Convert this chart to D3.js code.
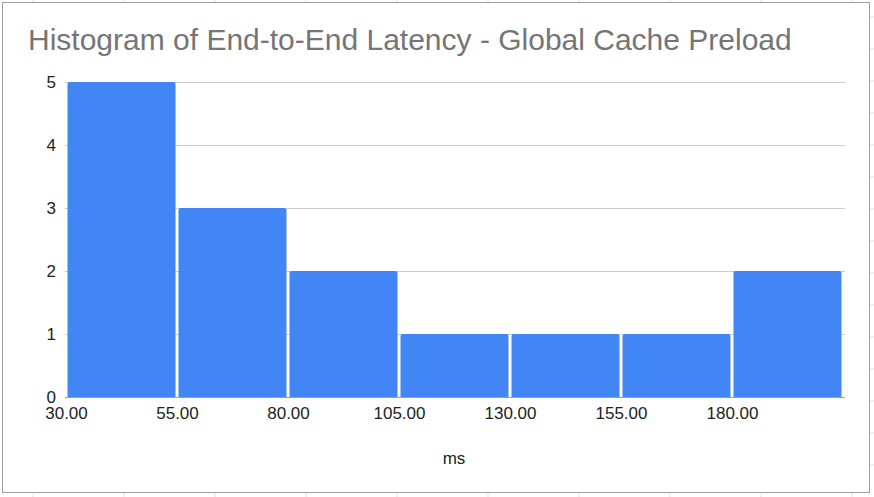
<!DOCTYPE html>
<html>
<head>
<meta charset="utf-8">
<script src="https://cdn.jsdelivr.net/npm/d3@7"></script>
<style>
  html, body { margin: 0; padding: 0; background: #fff; }
  svg { display: block; }
  text { font-family: Arial, "Liberation Sans", sans-serif; }
</style>
</head>
<body>
<svg id="chart" width="874" height="497"></svg>
<script>
const titleText = "Histogram of End-to-End Latency - Global Cache Preload";
const xAxisTitle = "ms";
const binStarts = [30, 55, 80, 105, 130, 155, 180];
const binEnds   = [55, 80, 105, 130, 155, 180, 205];
const counts    = [5, 3, 2, 1, 1, 1, 2];
const xTickValues = [30, 55, 80, 105, 130, 155, 180];
const yTickValues = [0, 1, 2, 3, 4, 5];

(function () {
const svg = d3.select("#chart");

// outer sheet gridline hints
const sheetG = svg.append("g");
[33, 124, 215, 306, 397, 488, 579, 670, 761, 852].forEach(xx => {
  sheetG.append("line").attr("x1", xx).attr("x2", xx).attr("y1", 0).attr("y2", 2).attr("stroke", "#e2e2e2");
  sheetG.append("line").attr("x1", xx).attr("x2", xx).attr("y1", 493).attr("y2", 497).attr("stroke", "#e2e2e2");
});
[17, 49, 81, 113, 145, 177, 209, 241, 273, 305, 337, 369, 401, 433, 465].forEach(yy => {
  sheetG.append("line").attr("x1", 870).attr("x2", 874).attr("y1", yy).attr("y2", yy).attr("stroke", "#e2e2e2");
});

// chart frame
svg.append("rect").attr("x", 2.5).attr("y", 2.5).attr("width", 867).attr("height", 490)
  .attr("fill", "#fff").attr("stroke", "#9e9e9e").attr("stroke-width", 1);

const pLeft = 65, pRight = 843, pTop = 82, pBottom = 397;
const x = d3.scaleLinear().domain([30, 205]).range([pLeft + 1, pRight]);
const y = d3.scaleLinear().domain([0, 5]).range([pBottom, pTop]);

// gridlines
svg.append("g").selectAll("line").data(yTickValues.filter(v => v > 0)).join("line")
  .attr("x1", pLeft).attr("x2", 845)
  .attr("y1", d => Math.round(y(d)) + 0.5).attr("y2", d => Math.round(y(d)) + 0.5)
  .attr("stroke", "#cccccc").attr("stroke-width", 1);

// bars with rounded top corners
function barPath(x0, x1, yt, yb, r) {
  return `M${x0},${yb}L${x0},${yt + r}Q${x0},${yt} ${x0 + r},${yt}L${x1 - r},${yt}Q${x1},${yt} ${x1},${yt + r}L${x1},${yb}Z`;
}
const bars = binStarts.map((s, i) => ({ s, e: binEnds[i], c: counts[i] }));
svg.append("g").selectAll("path").data(bars).join("path")
  .attr("d", d => barPath(x(d.s) + 1.5, x(d.e) - 1.5, y(d.c), pBottom, 2))
  .attr("fill", "#4285f4");

// baseline
svg.append("line").attr("x1", pLeft).attr("x2", 845).attr("y1", pBottom + 0.5).attr("y2", pBottom + 0.5)
  .attr("stroke", "#9e9e9e").attr("stroke-width", 1);

const labelFont = 17;

// y axis labels
const yAxis = d3.axisLeft(y).tickValues(yTickValues).tickSize(0).tickPadding(0).tickFormat(d3.format("d"));
const yg = svg.append("g").attr("transform", `translate(${pLeft - 9},0)`).call(yAxis);
yg.select(".domain").remove();
yg.selectAll("text").attr("font-size", labelFont).attr("fill", "#222").attr("font-family", "Arial, 'Liberation Sans', sans-serif")
  .attr("dy", "0.3em");

// x axis labels
const xAxis = d3.axisBottom(x).tickValues(xTickValues).tickSize(0).tickPadding(0).tickFormat(d3.format(".2f"));
const xg = svg.append("g").attr("transform", `translate(0,${pBottom + 22})`).call(xAxis);
xg.select(".domain").remove();
xg.selectAll("text").attr("font-size", labelFont).attr("fill", "#222").attr("font-family", "Arial, 'Liberation Sans', sans-serif")
  .attr("dy", "0");

// axis title
svg.append("text").attr("x", 454).attr("y", 464).attr("text-anchor", "middle")
  .attr("font-size", labelFont).attr("fill", "#222").text(xAxisTitle);

// title
svg.append("text").attr("x", 28).attr("y", 50)
  .attr("font-size", 30).attr("fill", "#757575").text(titleText);
})();
</script>
</body>
</html>
